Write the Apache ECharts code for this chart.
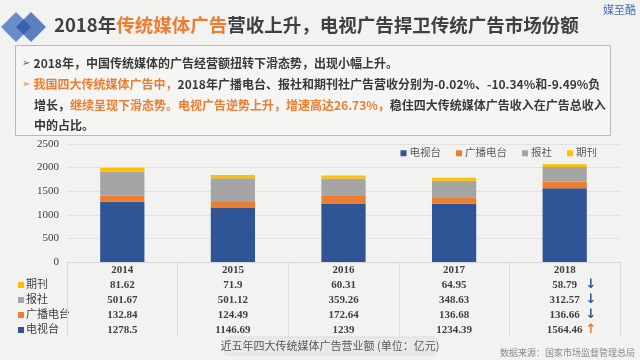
<!DOCTYPE html>
<html><head><meta charset="utf-8">
<script src="https://cdn.jsdelivr.net/npm/echarts@6/dist/echarts.min.js"></script>
<style>html,body{margin:0;padding:0;background:#f2f2f0;}#c{width:640px;height:360px;}</style>
</head><body><div id="c"></div>
<script>
const years = ['2014','2015','2016','2017','2018'];
const seriesNames = ['电视台','广播电台','报社','期刊'];
const tv = [1278.5, 1146.69, 1239, 1234.39, 1564.46];
const radio = [132.84, 124.49, 172.64, 136.68, 136.66];
const paper = [501.67, 501.12, 359.26, 348.63, 312.57];
const periodical = [81.62, 71.9, 60.31, 64.95, 58.79];
const yTicks = [0, 500, 1000, 1500, 2000, 2500];
const trend2018 = {'期刊':'down','报社':'down','广播电台':'down','电视台':'up'};

const colors = {'电视台':'#2F5597','广播电台':'#ED7D31','报社':'#A5A5A5','期刊':'#FFC000'};
const values = {'电视台':tv,'广播电台':radio,'报社':paper,'期刊':periodical};
const tableRows = ['期刊','报社','广播电台','电视台'];

const serif = '"Liberation Serif","DejaVu Serif","Noto Sans CJK SC",serif';
const sans = '"Noto Sans CJK SC","Noto Sans",sans-serif';

const chart = echarts.init(document.getElementById('c'));

const gridTop = 144, gridBottomY = 262, gridLeft = 67, gridRight = 620;
const rowY0 = 285, rowGap = 15;

const xAxes = [{
  type:'category', data: years, gridIndex:0, position:'bottom',
  axisLine:{show:true, lineStyle:{color:'#d6d6d6'}},
  axisTick:{show:true, length:75, lineStyle:{color:'#dcdcdc'}},
  axisLabel:{color:'#404040', fontFamily:serif, fontWeight:'bold', fontSize:11, margin:3}
}];
tableRows.forEach((name, i) => {
  xAxes.push({
    type:'category', gridIndex:0, position:'bottom', offset: (rowY0 + i*rowGap) - 270,
    data: values[name].map(v => String(v)),
    axisLine:{show:false}, axisTick:{show:false}, splitLine:{show:false},
    axisLabel:{color:'#404040', fontFamily:serif, fontWeight:'bold', fontSize:11, margin:3}
  });
});

const graphics = [];
function diamond(cx, cy, h, fill){
  return {type:'polygon', shape:{points:[[cx-h,cy],[cx,cy-h],[cx+h,cy],[cx,cy+h]]}, style:{fill}};
}
graphics.push(diamond(16, 27, 15, '#6a8cc8'));
graphics.push(diamond(31, 27, 15, '#5b7fc0'));
graphics.push(diamond(23.5, 27, 7.5, '#3b61a8'));
graphics.push({type:'text', left:54, top:16, style:{
  text:'{a|2018年}{o|传统媒体广告}{a|营收上升，电视广告捍卫传统广告市场份额}',
  rich:{a:{fill:'#404040', fontSize:18.5, fontWeight:'bold', fontFamily:sans},
        o:{fill:'#ED7D31', fontSize:18.5, fontWeight:'bold', fontFamily:sans}}
}});
graphics.push({type:'text', right:4, top:4, style:{text:'媒至酷', fill:'#4472C4', fontSize:11, fontFamily:sans}});
graphics.push({type:'rect', shape:{x:15.5, y:45.5, width:595, height:90}, style:{fill:'rgba(255,255,255,0.25)', stroke:'#b8b8b8', lineWidth:1}});
const fs = 12;
const richBody = {
  d:{fill:'#3a3a3a', fontSize:fs, fontWeight:'bold', fontFamily:sans},
  o:{fill:'#ED7D31', fontSize:fs, fontWeight:'bold', fontFamily:sans},
  bd:{fill:'#595959', fontSize:10, fontFamily:'"DejaVu Sans",sans-serif'},
  bo:{fill:'#ED7D31', fontSize:10, fontFamily:'"DejaVu Sans",sans-serif'}
};
const lines = [
  {x:22, y:63, t:'{bd|➢ }{d|2018年，中国传统媒体的广告经营额扭转下滑态势，出现小幅上升。}'},
  {x:22, y:84, t:'{bo|➢ }{o|我国四大传统媒体广告中，}{d|2018年广播电台、报社和期刊社广告营收分别为-0.02%、-10.34%和-9.49%负}'},
  {x:34, y:105, t:'{d|增长，}{o|继续呈现下滑态势。电视广告逆势上升，增速高达26.73%，}{d|稳住四大传统媒体广告收入在广告总收入}'},
  {x:34, y:125, t:'{d|中的占比。}'}
];
lines.forEach(l => graphics.push({type:'text', x:l.x, y:l.y, style:{text:l.t, rich:richBody, verticalAlign:'middle'}}));
tableRows.forEach((name, i) => {
  const y = rowY0 + i*rowGap;
  graphics.push({type:'rect', shape:{x:18, y:y-3, width:6, height:6}, style:{fill:colors[name]}});
  graphics.push({type:'text', x:26, y:y, style:{text:name, fill:'#404040', fontSize:11, fontFamily:serif, verticalAlign:'middle'}});
  const up = trend2018[name] === 'up';
  graphics.push({type:'text', x:591, y:y, style:{text: up ? '↑' : '↓', fill: up ? '#ED7D31' : '#2F5597', fontSize:13, fontWeight:'bold', fontFamily:'"DejaVu Sans",sans-serif', align:'center', verticalAlign:'middle'}});
});
graphics.push({type:'rect', shape:{x:225, y:337, width:210, height:18, r:2}, style:{fill:'#e9e9e9', stroke:'#dedede'}});
graphics.push({type:'text', x:330, y:346, style:{text:'近五年四大传统媒体广告营业额 (单位：亿元)', fill:'#595959', fontSize:11, fontFamily:sans, align:'center', verticalAlign:'middle'}});
graphics.push({type:'text', x:635, y:353, style:{text:'数据来源：国家市场监督管理总局', fill:'#8a8a8a', fontSize:9, fontFamily:sans, align:'right', verticalAlign:'middle'}});

chart.setOption({
  backgroundColor:'#f2f2f0',
  animation:false,
  grid:{left:gridLeft, right:640-gridRight, top:gridTop, bottom:360-gridBottomY},
  legend:{top:143, right:38, itemWidth:6, itemHeight:6, itemGap:15, icon:'rect',
    data: seriesNames,
    textStyle:{color:'#595959', fontSize:10.5, fontFamily:serif, padding:[0,0,0,-2]}},
  xAxis: xAxes,
  yAxis:{type:'value', min:yTicks[0], max:yTicks[yTicks.length-1], interval:yTicks[1]-yTicks[0],
    axisLine:{show:false}, axisTick:{show:false},
    axisLabel:{color:'#404040', fontFamily:serif, fontSize:11, margin:8, formatter: v => String(v)},
    splitLine:{lineStyle:{color:'#e2e2e2'}}},
  series: seriesNames.map(name => ({
    name, type:'bar', stack:'total', barWidth:'40%', xAxisIndex:0,
    data: values[name], itemStyle:{color:colors[name]}
  })),
  graphic: graphics
});
</script></body></html>
